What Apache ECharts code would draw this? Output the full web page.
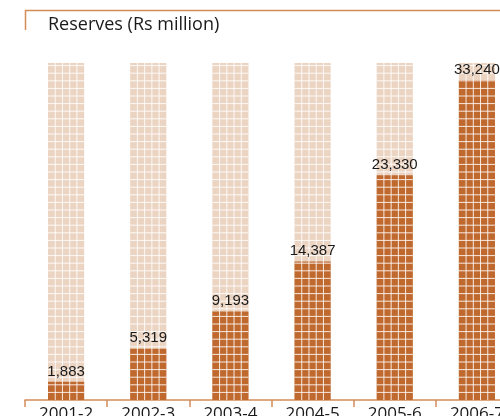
<!DOCTYPE html>
<html>
<head>
<meta charset="utf-8">
<script src="https://cdn.jsdelivr.net/npm/echarts@6/dist/echarts.min.js"></script>
<style>
html,body{margin:0;padding:0;background:#fff;}
#chart{width:500px;height:416px;}
</style>
</head>
<body>
<div id="chart"></div>
<script>
var categories = ['2001-2', '2002-3', '2003-4', '2004-5', '2005-6', '2006-7'];
var reserves = [1883, 5319, 9193, 14387, 23330, 33240];
var valueLabels = ['1,883', '5,319', '9,193', '14,387', '23,330', '33,240'];
var titleText = 'Reserves (Rs million)';

var DARK = '#c0692f';
var LIGHT = '#ecd4c2';
var AXIS = '#d48c58';

var chart = echarts.init(document.getElementById('chart'), null, {renderer: 'canvas'});

function renderItem(params, api) {
  var idx = api.value(0);
  var val = api.value(1);
  var cs = params.coordSys;
  var base = api.coord([idx, 0]);
  var top = api.coord([idx, val]);
  var bw = api.size([1, 0])[0] * 0.44;
  var x0 = base[0] - bw / 2;
  var yBottom = base[1];
  var yTop = top[1];
  var bgTop = cs.y;
  var children = [];
  children.push({type: 'rect', shape: {x: x0, y: bgTop, width: bw, height: yBottom - bgTop}, style: {fill: LIGHT}});
  children.push({type: 'rect', shape: {x: x0, y: yTop, width: bw, height: yBottom - yTop}, style: {fill: DARK}});
  var step = 7.6;
  for (var y = yBottom - step; y > bgTop; y -= step) {
    children.push({type: 'line', shape: {x1: x0, y1: y, x2: x0 + bw, y2: y}, style: {stroke: 'rgba(255,255,255,0.85)', lineWidth: 1}});
  }
  var vstep = bw / 5;
  for (var k = 1; k < 5; k++) {
    var xx = x0 + k * vstep;
    children.push({type: 'line', shape: {x1: xx, y1: bgTop, x2: xx, y2: yBottom}, style: {stroke: 'rgba(255,255,255,0.85)', lineWidth: 1}});
  }
  children.push({type: 'text', style: {text: valueLabels[idx], x: base[0], y: yTop - 3, align: 'center', verticalAlign: 'bottom', fill: '#1a1a1a', font: '15px "Liberation Sans Narrow", "Liberation Sans", sans-serif'}});
  return {type: 'group', children: children};
}

var option = {
  animation: false,
  graphic: [
    {type: 'polyline', shape: {points: [[25.5, 30], [25.5, 10.5], [500, 10.5]]}, style: {stroke: AXIS, lineWidth: 1.5, fill: null}},
    {type: 'text', left: 48, top: 16, style: {text: titleText, fill: '#1a1a1a', font: '18px "Open Sans", sans-serif'}}
  ],
  grid: {left: 25, width: 493, top: 63, bottom: 16, containLabel: false, outerBoundsMode: 'none'},
  xAxis: {
    type: 'category',
    data: categories,
    boundaryGap: true,
    axisLine: {lineStyle: {color: AXIS, width: 1.5}},
    axisTick: {show: true, length: 7, alignWithLabel: false, lineStyle: {color: AXIS, width: 1.5}},
    axisLabel: {color: '#1a1a1a', fontSize: 17, margin: 6, fontFamily: '"Open Sans", sans-serif', interval: 0}
  },
  yAxis: {type: 'value', min: 0, max: 35000, show: false, splitLine: {show: false}},
  series: [{
    type: 'custom',
    renderItem: renderItem,
    data: reserves.map(function (v, i) { return [i, v]; }),
    encode: {x: 0, y: 1}
  }]
};
chart.setOption(option);
</script>
</body>
</html>
